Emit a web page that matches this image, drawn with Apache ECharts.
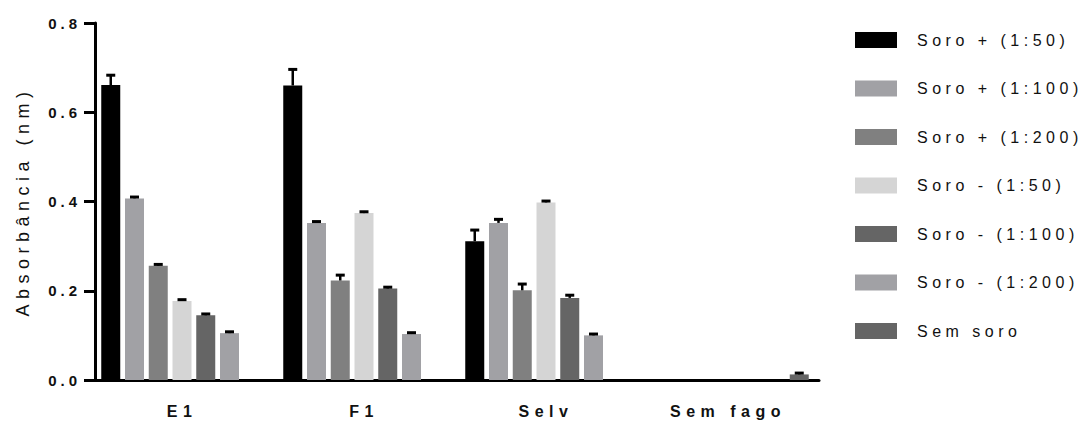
<!DOCTYPE html>
<html>
<head>
<meta charset="utf-8">
<script src="https://cdn.jsdelivr.net/npm/echarts@6/dist/echarts.min.js"></script>
<style>
  html, body { margin: 0; padding: 0; background: #ffffff; }
  #chart { width: 1082px; height: 421px; }
  /* spaced-out lettering used throughout the figure */
  #chart text { letter-spacing: 4.5px; }
  #chart text[style*="bold"] { letter-spacing: 5.5px; }
  #chart text[style*="Helvetica"] { letter-spacing: 4px; }
  #chart text[style*="Liberation"] { letter-spacing: 5.5px; }
</style>
</head>
<body>
<div id="chart"></div>
<script>
// Groups on the x axis
const categories = ['E1', 'F1', 'Selv', 'Sem fago'];

// Series names (legend order)
const seriesNames = [
  'Soro + (1:50)', 'Soro + (1:100)', 'Soro + (1:200)',
  'Soro - (1:50)', 'Soro - (1:100)', 'Soro - (1:200)', 'Sem soro'
];

// Mean absorbance per group
const soroPos50  = [0.661, 0.660, 0.311, null];
const soroPos100 = [0.407, 0.352, 0.352, null];
const soroPos200 = [0.256, 0.223, 0.201, null];
const soroNeg50  = [0.177, 0.374, 0.398, null];
const soroNeg100 = [0.145, 0.205, 0.184, null];
const soroNeg200 = [0.105, 0.103, 0.100, null];
const semSoro    = [null, null, null, 0.0125];

// Upper error (SD) per group
const soroPos50Err  = [0.022, 0.036, 0.025, null];
const soroPos100Err = [0.003, 0.003, 0.008, null];
const soroPos200Err = [0.003, 0.012, 0.014, null];
const soroNeg50Err  = [0.003, 0.003, 0.003, null];
const soroNeg100Err = [0.003, 0.003, 0.006, null];
const soroNeg200Err = [0.003, 0.003, 0.003, null];
const semSoroErr    = [null, null, null, 0.003];

// Y axis ticks
const yTicks = [0.0, 0.2, 0.4, 0.6, 0.8];

const means = [soroPos50, soroPos100, soroPos200, soroNeg50, soroNeg100, soroNeg200, semSoro];
const errs  = [soroPos50Err, soroPos100Err, soroPos200Err, soroNeg50Err, soroNeg100Err, soroNeg200Err, semSoroErr];
const colors = ['#000000', '#a1a1a5', '#808080', '#d5d5d5', '#656565', '#a1a1a5', '#656565'];

const BAR_W = 19;
const BAR_GAP = 0.25;
const PITCH = BAR_W * (1 + BAR_GAP);
const NSER = seriesNames.length;
const FONT = 'Arial';
const TICK_FONT = 'Helvetica, Arial';
const TITLE_FONT = 'Liberation Sans';

const barSeries = seriesNames.map((name, s) => ({
  name: name,
  type: 'bar',
  barWidth: BAR_W,
  barGap: (BAR_GAP * 100) + '%',
  data: means[s],
  itemStyle: { color: colors[s] },
  emphasis: { disabled: true },
  z: 2
}));

// error bar items: [categoryIndex, seriesIndex, mean, err]
const errData = [];
means.forEach((arr, s) => {
  arr.forEach((v, c) => {
    if (v != null && errs[s][c] != null) errData.push([c, s, v, errs[s][c]]);
  });
});

const errorSeries = {
  type: 'custom',
  name: 'err',
  data: errData,
  encode: { x: 0, y: 2 },
  z: 5,
  silent: true,
  renderItem: function (params, api) {
    const c = api.value(0), s = api.value(1), v = api.value(2), e = api.value(3);
    const base = api.coord([c, v]);
    const top = api.coord([c, v + e]);
    const x = base[0] + (s - (NSER - 1) / 2) * PITCH;
    return {
      type: 'group',
      children: [
        { type: 'line', shape: { x1: x, y1: base[1], x2: x, y2: top[1] },
          style: { stroke: '#000', lineWidth: 2.5 } },
        { type: 'line', shape: { x1: x - 4.5, y1: top[1], x2: x + 4.5, y2: top[1] },
          style: { stroke: '#000', lineWidth: 3 } }
      ]
    };
  }
};

const chart = echarts.init(document.getElementById('chart'), null, { renderer: 'svg' });
chart.setOption({
  animation: false,
  backgroundColor: '#ffffff',
  grid: { left: 91, top: 23, width: 728, height: 357, containLabel: false },
  legend: {
    data: seriesNames,
    orient: 'vertical',
    left: 855,
    top: 32,
    padding: 0,
    icon: 'rect',
    itemWidth: 42,
    itemHeight: 16,
    itemGap: 32.5,
    selectedMode: false,
    textStyle: {
      fontFamily: FONT,
      fontSize: 16,
      color: '#111',
      lineHeight: 16,
      padding: [0, 0, 0, 15]
    }
  },
  xAxis: {
    type: 'category',
    data: categories,
    axisLine: { lineStyle: { color: '#000', width: 3 } },
    axisTick: { alignWithLabel: true, length: 10, lineStyle: { color: '#000', width: 3 } },
    axisLabel: {
      margin: 23,
      fontFamily: FONT,
      fontSize: 16,
      fontWeight: 'bold',
      color: '#111'
    },
    splitLine: { show: false }
  },
  yAxis: {
    type: 'value',
    min: yTicks[0],
    max: yTicks[yTicks.length - 1],
    interval: 0.2,
    offset: -4,
    name: 'Absorbância (nm)',
    nameLocation: 'middle',
    nameGap: 63,
    nameTextStyle: {
      fontFamily: TITLE_FONT,
      fontSize: 18,
      color: '#111'
    },
    axisLine: { show: true, lineStyle: { color: '#000', width: 3 } },
    axisTick: { show: true, length: 11, lineStyle: { color: '#000', width: 3 } },
    axisLabel: {
      margin: 14,
      fontFamily: TICK_FONT,
      fontSize: 15,
      fontWeight: 'bold',
      color: '#111',
      formatter: v => v.toFixed(1)
    },
    splitLine: { show: false }
  },
  series: barSeries.concat([errorSeries])
});
</script>
</body>
</html>
